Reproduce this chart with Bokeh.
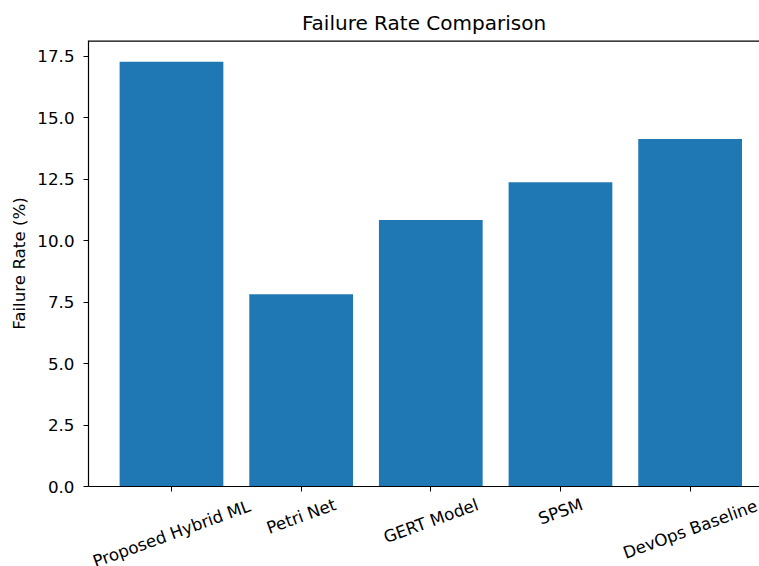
import math
from bokeh.plotting import figure
from bokeh.layouts import column
from bokeh.models import ColumnDataSource, Range1d, FixedTicker, SingleIntervalTicker, PrintfTickFormatter, Span
from bokeh.core.properties import value
from bokeh.embed import file_html
from bokeh.resources import INLINE

categories = ["Proposed Hybrid ML", "Petri Net", "GERT Model", "SPSM", "DevOps Baseline"]
failure_rate = [17.28, 7.82, 10.84, 12.37, 14.13]

xs = list(range(len(categories)))
src = ColumnDataSource(dict(x=xs, top=failure_rate, cat=categories))

FONT = "DejaVu Sans"
FS = 16.7
W_TOTAL, H_TOTAL = 759, 566
LEFT, H1, RB = 88, 497, 0
PPU = 129.66
X0 = -0.64
X1 = X0 + (W_TOTAL - LEFT - RB) / PPU
YMAX = 18.14

p = figure(width=W_TOTAL, height=H1, output_backend="svg", toolbar_location=None,
           x_range=Range1d(X0, X1), y_range=Range1d(0, YMAX),
           min_border_left=LEFT, min_border_right=RB, min_border_top=40, min_border_bottom=11,
           title="Failure Rate Comparison")
p.vbar(x="x", top="top", width=0.8, bottom=0, source=src, fill_color="#1f77b4", line_color=None)
p.add_layout(Span(location=YMAX, dimension="width", line_color="#000000", line_width=2.4))

p.title.align = "center"
p.title.text_font = FONT
p.title.text_font_size = "20px"
p.title.text_font_style = "normal"
p.title.text_color = "#000000"
p.title.standoff = 11

p.xgrid.visible = False
p.ygrid.visible = False
p.outline_line_color = None

xa = p.xaxis[0]
xa.ticker = FixedTicker(ticks=xs)
xa.major_label_text_font_size = "0px"
xa.major_label_standoff = 0
ya = p.yaxis[0]
ya.ticker = SingleIntervalTicker(interval=2.5)
ya.formatter = PrintfTickFormatter(format="%.1f")
ya.axis_label = "Failure Rate (%)"
ya.axis_label_text_font = FONT
ya.axis_label_text_font_size = "%.1fpx" % FS
ya.axis_label_text_font_style = "normal"
ya.axis_label_text_color = "#000000"
ya.axis_label_standoff = 5
ya.major_label_text_font_size = "%.1fpx" % FS
ya.major_label_standoff = 9

for ax in (xa, ya):
    ax.major_label_text_font = FONT
    ax.major_label_text_color = "#000000"
    ax.major_tick_in = 0
    ax.major_tick_out = 5
    ax.minor_tick_line_color = None
    ax.axis_line_color = "#000000"
    ax.major_tick_line_color = "#000000"
    ax.axis_line_width = 1.2

# second strip below: rotated category labels centred on their ticks (matplotlib style)
H2 = H_TOTAL - H1
q = figure(width=W_TOTAL, height=H2, output_backend="svg", toolbar_location=None,
           x_range=Range1d(X0 - LEFT / PPU, X0 + (W_TOTAL - LEFT) / PPU), y_range=Range1d(-H2, 0),
           min_border=0, x_axis_type=None, y_axis_type=None)
q.frame_align = False
q.xgrid.visible = False
q.ygrid.visible = False
q.outline_line_color = None

W = {'P': .603, 'r': .411, 'o': .612, 'p': .635, 's': .521, 'e': .615, 'd': .635, ' ': .318,
     'H': .752, 'y': .592, 'b': .635, 'i': .278, 'M': .863, 'L': .557, 't': .392, 'N': .748,
     'G': .775, 'E': .632, 'R': .695, 'T': .611, 'l': .278, 'S': .635, 'D': .770, 'v': .592,
     'O': .787, 'B': .686, 'a': .613, 'n': .634}
ang = math.radians(20)
ly = []
for c in categories:
    w = sum(W.get(ch, .6) for ch in c) * FS
    hg = (0.95 if any(ch in "pyqgj" for ch in c) else 0.76) * FS
    ext = w * math.sin(ang) + hg * math.cos(ang)
    ly.append(-(ext / 2))
lsrc = ColumnDataSource(dict(x=xs, y=ly, text=categories))
q.text(x="x", y="y", text="text", source=lsrc, angle=ang, text_align="center",
       text_baseline="middle", text_font=value(FONT), text_font_size="%.1fpx" % FS,
       text_color="#000000")

layout = column(p, q, spacing=0)
open("out.html", "w").write(file_html(layout, INLINE))
